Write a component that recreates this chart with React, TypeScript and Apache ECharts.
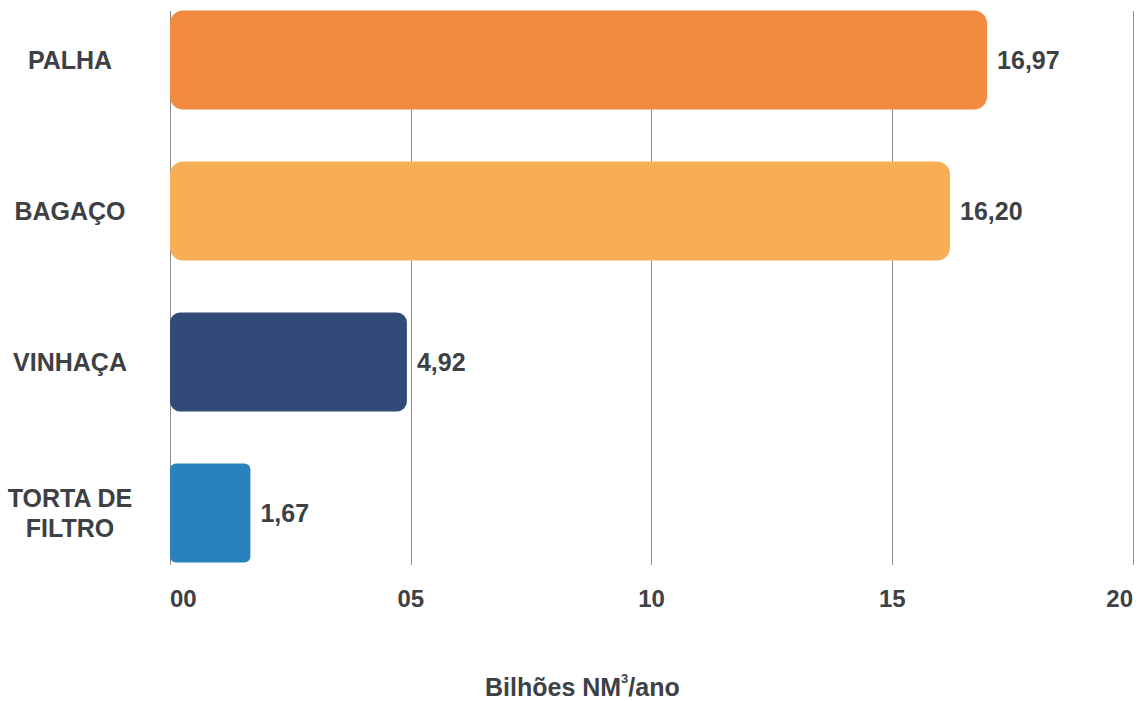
import React, { useEffect, useRef } from "react";
import * as echarts from "echarts";

const categories = ["PALHA", "BAGAÇO", "VINHAÇA", "TORTA DE\nFILTRO"];
const values = [16.97, 16.2, 4.92, 1.67];
const barColors = ["#F28A40", "#F8AE54", "#324A78", "#2A82BC"];
const barRadii = [13, 13, 10, 6];
const xTickLabels = ["00", "05", "10", "15", "20"];

const FONT = "'Liberation Sans', Arial, Helvetica, sans-serif";
const TEXT = "#3d4044";

export default function App() {
  const ref = useRef<HTMLDivElement>(null);
  useEffect(() => {
    if (!ref.current) return;
    const chart = echarts.init(ref.current, null, { renderer: "svg" });
    chart.setOption({
      animation: false,
      backgroundColor: "#ffffff",
      grid: [
        { left: 170, right: 8, top: 60, bottom: 188 },
        { left: 170, right: 8, top: 11, bottom: 136 },
      ],
      xAxis: [
        {
          gridIndex: 0,
          type: "value",
          min: 0,
          max: 20,
          interval: 5,
          show: false,
        },
        {
          gridIndex: 1,
          type: "value",
          min: 0,
          max: 20,
          interval: 5,
          axisLine: { show: false },
          axisTick: { show: false },
          splitLine: { show: true, lineStyle: { color: "#8c8c8c", width: 1 } },
          axisLabel: {
            margin: 21,
            fontFamily: FONT,
            fontWeight: "bold",
            fontSize: 24,
            color: TEXT,
            alignMinLabel: "left",
            alignMaxLabel: "right",
            formatter: (v: number) => xTickLabels[Math.round(v / 5)] ?? "",
          },
        },
      ],
      yAxis: [
        {
          gridIndex: 0,
          type: "category",
          inverse: true,
          boundaryGap: false,
          data: categories,
          axisLine: { show: false },
          axisTick: { show: false },
          splitLine: { show: false },
          axisLabel: {
            margin: 100,
            align: "center",
            fontFamily: FONT,
            fontWeight: "bold",
            fontSize: 25,
            lineHeight: 30,
            color: TEXT,
          },
        },
        {
          gridIndex: 1,
          type: "value",
          show: false,
        },
      ],
      series: [
        {
          type: "bar",
          xAxisIndex: 0,
          yAxisIndex: 0,
          barWidth: 99,
          data: values.map((v, i) => ({
            value: v,
            itemStyle: { color: barColors[i], borderRadius: barRadii[i] },
          })),
          label: {
            show: true,
            position: "right",
            distance: 10,
            fontFamily: FONT,
            fontWeight: "bold",
            fontSize: 25,
            color: TEXT,
            formatter: (p: any) => Number(p.value).toFixed(2).replace(".", ","),
          },
        },
      ],
      graphic: [
        {
          type: "text",
          left: 485,
          top: 672,
          style: {
            text: "{m|Bilhões NM}{s|3}{m|/ano}",
            rich: {
              m: {
                fontFamily: FONT,
                fontWeight: "bold",
                fontSize: 25,
                lineHeight: 30,
                fill: TEXT,
                color: TEXT,
              },
              s: {
                fontFamily: FONT,
                fontWeight: "bold",
                fontSize: 13,
                lineHeight: 30,
                verticalAlign: "top",
                fill: TEXT,
                color: TEXT,
              },
            },
          },
        },
      ],
    });
    return () => chart.dispose();
  }, []);
  return (
    <div
      ref={ref}
      style={{ position: "fixed", left: 0, top: 0, width: 1141, height: 701 }}
    />
  );
}
